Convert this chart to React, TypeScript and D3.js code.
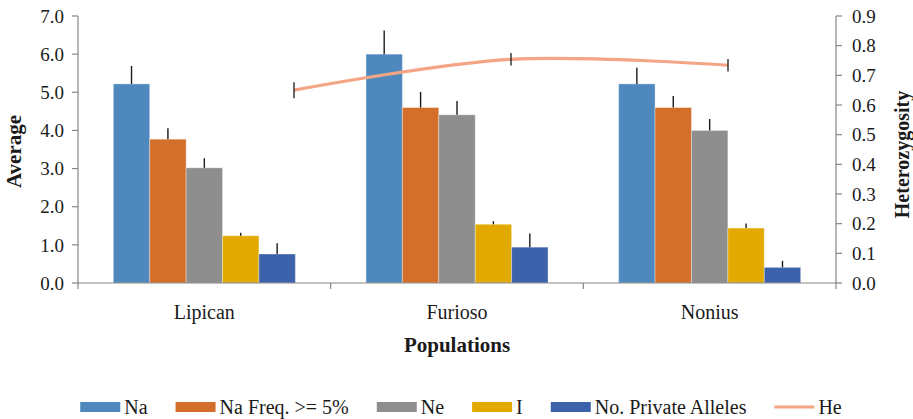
import React, { useEffect, useRef } from 'react';
import * as d3 from 'd3';

const populations = ['Lipican', 'Furioso', 'Nonius'];
const seriesNames = ['Na', 'Na Freq. >= 5%', 'Ne', 'I', 'No. Private Alleles'];
const seriesColors = ['#4E88BD', '#D36E2B', 'url(#nePattern)', '#E2AA00', '#3C62AC'];

// values per population, in seriesNames order
const lipicanValues = [5.22, 3.77, 3.02, 1.24, 0.76];
const furiosoValues = [6.0, 4.6, 4.41, 1.54, 0.94];
const noniusValues = [5.22, 4.6, 4.0, 1.44, 0.41];
const lipicanErrors = [0.47, 0.29, 0.25, 0.08, 0.28];
const furiosoErrors = [0.62, 0.41, 0.36, 0.08, 0.36];
const noniusErrors = [0.42, 0.3, 0.3, 0.12, 0.17];

const heValues = [0.65, 0.754, 0.734];
const heErrors = [0.027, 0.021, 0.021];

const leftTicks = [0, 1, 2, 3, 4, 5, 6, 7];
const rightTicks = [0, 0.1, 0.2, 0.3, 0.4, 0.5, 0.6, 0.7, 0.8, 0.9];

const W = 913;
const H = 419;
const FONT = 'Liberation Serif, Tinos, DejaVu Serif, serif';
const AXIS = '#868686';
const TEXT = '#1a1a1a';

const App: React.FC = () => {
  const svgRef = useRef<SVGSVGElement>(null);

  useEffect(() => {
    if (!svgRef.current) return;
    const svg = d3.select(svgRef.current);
    svg.selectAll('*').remove();

    const left = 78;
    const right = 836;
    const top = 16;
    const bottom = 283;

    const defs = svg.append('defs');
    const pat = defs.append('pattern')
      .attr('id', 'nePattern')
      .attr('patternUnits', 'userSpaceOnUse')
      .attr('width', 2)
      .attr('height', 2);
    pat.append('rect').attr('width', 2).attr('height', 2).attr('fill', '#959595');
    pat.append('rect').attr('width', 1).attr('height', 1).attr('fill', '#878787');
    pat.append('rect').attr('x', 1).attr('y', 1).attr('width', 1).attr('height', 1).attr('fill', '#878787');

    const x0 = d3.scaleBand<string>().domain(populations).range([left, right]);
    const x1 = d3.scaleBand<string>().domain(seriesNames)
      .range([0, x0.bandwidth()]).paddingInner(0).paddingOuter(0.97);
    const y = d3.scaleLinear().domain([0, 7]).range([bottom, top]);
    const y2 = d3.scaleLinear().domain([0, 0.9]).range([bottom, top]);
    const xHe = d3.scalePoint<string>().domain(populations).range([294, 728]);

    const values = [lipicanValues, furiosoValues, noniusValues];
    const errors = [lipicanErrors, furiosoErrors, noniusErrors];

    const txt = (sel: d3.Selection<SVGTextElement, unknown, null, undefined>, size = 18, bold = false) =>
      sel.attr('font-family', FONT)
        .attr('font-size', size)
        .attr('font-weight', bold ? 'bold' : 'normal')
        .attr('fill', TEXT);

    // bars
    populations.forEach((p, pi) => {
      const g = svg.append('g').attr('transform', `translate(${x0(p)},0)`);
      seriesNames.forEach((s, si) => {
        const v = values[pi][si];
        g.append('rect')
          .attr('x', x1(s)!)
          .attr('y', y(v))
          .attr('width', x1.bandwidth())
          .attr('height', y(0) - y(v))
          .attr('fill', seriesColors[si])
          .attr('stroke', 'rgba(255,255,255,0.35)')
          .attr('stroke-width', 1);
      });
      seriesNames.forEach((s, si) => {
        const v = values[pi][si];
        const cx = x1(s)! + x1.bandwidth() / 2;
        g.append('line')
          .attr('x1', cx).attr('x2', cx)
          .attr('y1', y(v)).attr('y2', y(v + errors[pi][si]))
          .attr('stroke', TEXT)
          .attr('stroke-width', 1.4);
      });
    });

    // axes
    svg.append('line').attr('x1', left).attr('x2', right).attr('y1', bottom).attr('y2', bottom)
      .attr('stroke', AXIS).attr('stroke-width', 1.2);
    svg.append('line').attr('x1', left).attr('x2', left).attr('y1', top).attr('y2', bottom)
      .attr('stroke', AXIS).attr('stroke-width', 1.2);
    svg.append('line').attr('x1', right).attr('x2', right).attr('y1', top).attr('y2', bottom)
      .attr('stroke', AXIS).attr('stroke-width', 1.2);

    const catBounds = [...populations.map(p => x0(p)!), right];
    catBounds.forEach(bx => {
      svg.append('line').attr('x1', bx).attr('x2', bx).attr('y1', bottom).attr('y2', bottom + 6)
        .attr('stroke', AXIS).attr('stroke-width', 1.2);
    });

    leftTicks.forEach(t => {
      svg.append('line').attr('x1', left - 6).attr('x2', left).attr('y1', y(t)).attr('y2', y(t))
        .attr('stroke', AXIS).attr('stroke-width', 1.2);
      txt(svg.append('text'), 19)
        .attr('x', left - 14).attr('y', y(t)).attr('dy', '0.35em')
        .attr('text-anchor', 'end')
        .text(d3.format('.1f')(t));
    });

    rightTicks.forEach(t => {
      svg.append('line').attr('x1', right).attr('x2', right + 6).attr('y1', y2(t)).attr('y2', y2(t))
        .attr('stroke', AXIS).attr('stroke-width', 1.2);
      txt(svg.append('text'), 19)
        .attr('x', right + 16).attr('y', y2(t)).attr('dy', '0.35em')
        .attr('text-anchor', 'start')
        .text(d3.format('.1f')(t));
    });

    populations.forEach(p => {
      txt(svg.append('text'), 20)
        .attr('x', x0(p)! + x0.bandwidth() / 2).attr('y', 312).attr('dy', '0.35em')
        .attr('text-anchor', 'middle')
        .text(p);
    });

    txt(svg.append('text'), 21, true)
      .attr('x', (left + right) / 2).attr('y', 345).attr('dy', '0.35em')
      .attr('text-anchor', 'middle')
      .text('Populations');

    txt(svg.append('text'), 21, true)
      .attr('transform', `translate(14,${(top + bottom) / 2 + 2}) rotate(-90)`)
      .attr('dy', '0.35em')
      .attr('text-anchor', 'middle')
      .text('Average');

    txt(svg.append('text'), 20, true)
      .attr('transform', `translate(902,${(top + bottom) / 2 + 5}) rotate(-90)`)
      .attr('dy', '0.35em')
      .attr('text-anchor', 'middle')
      .text('Heterozygosity');

    // He line
    const line = d3.line<number>()
      .x((_, i) => xHe(populations[i])!)
      .y(d => y2(d))
      .curve(d3.curveCatmullRom.alpha(0.5));
    svg.append('path')
      .attr('d', line(heValues))
      .attr('fill', 'none')
      .attr('stroke', '#F3A585')
      .attr('stroke-width', 3.2);
    heValues.forEach((v, i) => {
      const cx = xHe(populations[i])!;
      svg.append('line')
        .attr('x1', cx).attr('x2', cx)
        .attr('y1', y2(v - heErrors[i])).attr('y2', y2(v + heErrors[i]))
        .attr('stroke', TEXT).attr('stroke-width', 1.3);
    });

    // legend
    const legY = 407;
    const legend = svg.append('g');
    const items = [...seriesNames.map((s, i) => ({ name: s, color: seriesColors[i], line: false })),
      { name: 'He', color: '#F3A585', line: true }];
    let cursor = 0;
    items.forEach(it => {
      const g = legend.append('g').attr('transform', `translate(${cursor},0)`);
      if (it.line) {
        g.append('line').attr('x1', 0).attr('x2', 40).attr('y1', legY).attr('y2', legY)
          .attr('stroke', it.color).attr('stroke-width', 3.2);
      } else {
        g.append('rect').attr('x', 0).attr('y', legY - 5).attr('width', 40).attr('height', 10)
          .attr('fill', it.color);
      }
      const t = txt(g.append('text'), 20)
        .attr('x', 44).attr('y', legY).attr('dy', '0.35em')
        .text(it.name);
      const w = (t.node() as SVGTextElement).getComputedTextLength();
      cursor += 44 + w + 28;
    });
    const totalW = cursor - 28;
    legend.attr('transform', `translate(${461 - totalW / 2},0)`);
  }, []);

  return (
    <svg
      ref={svgRef}
      width={W}
      height={H}
      viewBox={`0 0 ${W} ${H}`}
      style={{ position: 'absolute', left: 0, top: 0, background: '#fff' }}
    />
  );
};

export default App;
